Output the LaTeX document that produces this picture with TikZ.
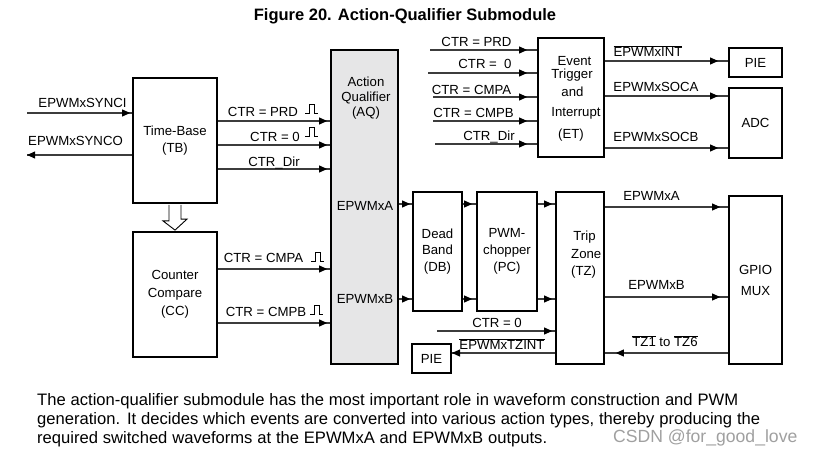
\documentclass[tikz,border=0pt]{standalone}
\usepackage{fontspec}
\setmainfont{Liberation Sans}
\usetikzlibrary{arrows.meta,decorations.markings,calc}
\definecolor{aqgray}{RGB}{230,230,231}
\definecolor{wiregray}{RGB}{60,60,60}
\definecolor{wmgray}{RGB}{160,160,160}
\newcommand{\ovl}[1]{$\overline{\mbox{#1}}$}
\tikzset{
  box/.style={draw=black, line width=1.8pt, inner sep=0pt, align=center,
    font=\fontsize{13.2}{17}\selectfont},
  lbl/.style={inner sep=0pt, font=\fontsize{13.2}{16}\selectfont,
    text height=9.5pt, text depth=0pt},
  wire/.style={draw=wiregray, line width=1.1pt},
  tipat/.style={decoration={markings,
      mark=at position -#1 with {\arrow[black]{Triangle[length=8pt,width=7pt]}}},
    postaction=decorate},
  pulse/.pic={\draw[black, line width=0.9pt] (-6.5,4.5) -- (-2.5,4.5) -- (-2.5,-4.5)
      -- (2.5,-4.5) -- (2.5,4.5) -- (6.5,4.5);},
  bodytext/.style={inner sep=0pt, anchor=base west, font=\fontsize{16.6}{19}\selectfont},
}
\begin{document}
\begin{tikzpicture}[x=1pt,y=-1pt]
\useasboundingbox[fill=white] (0,0) rectangle (821,454);

% title
\node[inner sep=0pt, anchor=base, font=\fontsize{16.5}{20}\selectfont\bfseries] (title)
  at (405,20.7) {Figure 20. Action-Qualifier Submodule};

% boxes
\node[box, minimum width=84pt, minimum height=125pt] (tb) at (175,140.5) {Time-Base\\(TB)};
\node[box, minimum width=84pt, minimum height=125pt, font=\fontsize{13.2}{18}\selectfont]
  (cc) at (175,294.5) {Counter\\Compare\\(CC)};
\node[box, fill=aqgray, minimum width=67pt, minimum height=314pt] (aq) at (364.5,207) {};
\node[box, minimum width=49pt, minimum height=119pt, font=\fontsize{13.2}{16.5}\selectfont]
  (db) at (437.5,251.5) {Dead\\Band\\(DB)};
\node[box, minimum width=60pt, minimum height=119pt] (pc) at (507,251.5) {PWM-\\chopper\\(PC)};
\node[box, minimum width=48pt, minimum height=172pt] (tz) at (580,278) {};
\node[box, minimum width=53pt, minimum height=168pt, font=\fontsize{13.2}{21}\selectfont]
  (gpio) at (755.5,280) {GPIO\\MUX};
\node[box, minimum width=66pt, minimum height=119pt] (et) at (571,97.5) {};
\node[box, minimum width=53pt, minimum height=29pt] (pieA) at (755.5,62.5) {PIE};
\node[box, minimum width=53pt, minimum height=70pt] (adc) at (755.5,123) {ADC};
\node[box, minimum width=39pt, minimum height=29pt] (pieB) at (431.5,358.5) {PIE};

% texts inside boxes placed freely
\node[inner sep=0pt, align=center, font=\fontsize{13.2}{15.2}\selectfont] (aqtxt)
  at (366,98) {Action\\Qualifier\\(AQ)};
\node[lbl] (aqa) at (365,205.5) {EPWMxA};
\node[lbl] (aqb) at (365,299) {EPWMxB};
\node[inner sep=0pt, align=left, anchor=west, font=\fontsize{13.2}{17.5}\selectfont] (tztxt)
  at (571,255) {\,Trip\\Zone\\(TZ)};
\node[lbl] (et1) at (574.5,61) {Event};
\node[lbl] (et2) at (572,74) {Trigger};
\node[lbl] (et3) at (572.5,92) {and};
\node[lbl] (et4) at (576,112) {Interrupt};
\node[lbl] (et5) at (571,134) {(ET)};

% sync signals
\coordinate (syncin) at (27,113);
\coordinate (syncout) at (27,155);
\draw[wire, tipat=2pt] (syncin) -- (tb.west |- syncin);
\draw[wire, tipat=0.1pt] (tb.west |- syncout) -- (syncout);
\node[lbl] (lsynci) at (82.5,103) {EPWMxSYNCI};
\node[lbl] (lsynco) at (75.5,140.5) {EPWMxSYNCO};

% TB -> AQ
\draw[wire, tipat=3pt] (tb.east |- 0,121) -- (aq.west |- 0,121);
\draw[wire, tipat=3pt] (tb.east |- 0,145) -- (aq.west |- 0,145);
\draw[wire, tipat=3pt] (tb.east |- 0,169) -- (aq.west |- 0,169);
\node[lbl] (lprd) at (263,112) {CTR = PRD};
\node[lbl] (lzero) at (275,137) {CTR = 0};
\node[lbl] (ldir) at (274,162) {CTR\_Dir};
\pic at (311.5,108.5) {pulse};
\pic at (311.5,131.5) {pulse};

% hollow arrow TB -> CC
\draw[black, line width=0.9pt, fill=white] ($(tb.south)+(-6,1)$) -- ++(0,16) -- ++(-6,0)
  -- ($(cc.north)+(0,-1)$) -- ++(12,-11) -- ++(-6,0) -- ($(tb.south)+(6,1)$);

% CC -> AQ
\draw[wire, tipat=3pt] (cc.east |- 0,269) -- (aq.west |- 0,269);
\draw[wire, tipat=3pt] (cc.east |- 0,323) -- (aq.west |- 0,323);
\node[lbl] (lcmpa) at (263.5,258) {CTR = CMPA};
\node[lbl] (lcmpb) at (266,311.5) {CTR = CMPB};
\pic at (317.5,257) {pulse};
\pic at (316.5,309.5) {pulse};

% AQ -> DB -> PC -> TZ
\draw[wire, tipat=2pt] (aq.east |- 0,204) -- (db.west |- 0,204);
\draw[wire, tipat=2pt] (aq.east |- 0,299) -- (db.west |- 0,299);
\draw[wire, tipat=4pt] (db.east |- 0,204) -- (pc.west |- 0,204);
\draw[wire, tipat=4pt] (db.east |- 0,299) -- (pc.west |- 0,299);
\draw[wire, tipat=3pt] (pc.east |- 0,204) -- (tz.west |- 0,204);
\draw[wire, tipat=3pt] (pc.east |- 0,299) -- (tz.west |- 0,299);

% TZ -> GPIO
\draw[wire, tipat=8pt] (tz.east |- 0,207) -- (gpio.west |- 0,207);
\draw[wire, tipat=8pt] (tz.east |- 0,297) -- (gpio.west |- 0,297);
\node[lbl] (ltza) at (651.5,195.5) {EPWMxA};
\node[lbl] (ltzb) at (656.5,284.5) {EPWMxB};

% GPIO -> TZ
\draw[wire, tipat=11pt] (gpio.west |- 0,353) -- (tz.east |- 0,353);
\node[lbl] (ltz16) at (665,342) {\ovl{TZ1} to \ovl{TZ6}};

% CTR=0 -> TZ, TZ -> PIE
\coordinate (tzzero) at (437,331);
\draw[wire, tipat=3pt] (tzzero) -- (tz.west |- tzzero);
\node[lbl] (ltzzero) at (497,322.5) {CTR = 0};
\draw[wire, tipat=0.1pt] (tz.west |- 0,353) -- (pieB.east |- 0,353);
\node[lbl] (ltzint) at (502,344.5) {\ovl{EPWMxTZINT}};

% ET inputs
\coordinate (eti1) at (430,50);
\coordinate (eti2) at (428,73);
\coordinate (eti3) at (433,97);
\coordinate (eti4) at (433,121);
\coordinate (eti5) at (435,144);
\foreach \c in {eti1,eti2,eti3,eti4,eti5}
  \draw[wire, tipat=10pt] (\c) -- (et.west |- \c);
\node[lbl] (le1) at (476.5,41.5) {CTR = PRD};
\node[lbl] (le2) at (485,64) {CTR =\ \ 0};
\node[lbl] (le3) at (471.5,89.5) {CTR = CMPA};
\node[lbl] (le4) at (473.5,112.5) {CTR = CMPB};
\node[lbl] (le5) at (489,136) {CTR\_Dir};

% ET outputs
\draw[wire, tipat=10pt] (et.east |- 0,61) -- (pieA.west |- 0,61);
\draw[wire, tipat=10pt] (et.east |- 0,96) -- (adc.west |- 0,96);
\draw[wire, tipat=10pt] (et.east |- 0,148) -- (adc.west |- 0,148);
\node[lbl] (lint) at (648,52) {\ovl{EPWMxINT}};
\node[lbl] (lsoca) at (656,87) {EPWMxSOCA};
\node[lbl] (lsocb) at (656,137) {EPWMxSOCB};

% paragraph
\node[bodytext] (p1) at (37,405) {\makebox[701pt][s]{The action-qualifier submodule has the most important role in waveform construction and PWM}};
\node[bodytext] (p2) at (37,424) {\makebox[723pt][s]{generation. It decides which events are converted into various action types, thereby producing the}};
\node[bodytext] (p3) at (37,443) {\makebox[510pt][s]{required switched waveforms at the EPWMxA and EPWMxB outputs.}};
\node[inner sep=0pt, anchor=base west, text=wmgray, font=\fontsize{17.6}{20}\selectfont] (wm)
  at (613,442) {CSDN @for\_good\_love};
\end{tikzpicture}
\end{document}
